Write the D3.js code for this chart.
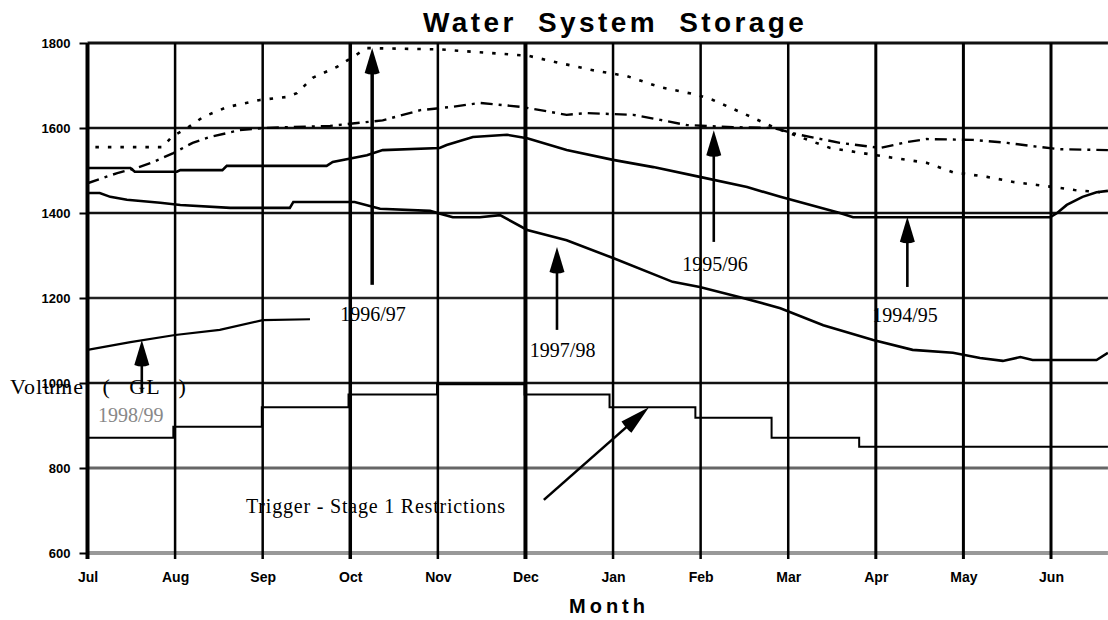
<!DOCTYPE html>
<html>
<head>
<meta charset="utf-8">
<script src="https://cdn.jsdelivr.net/npm/d3@7"></script>
<style>
  html, body { margin: 0; padding: 0; background: #fff; }
  svg { display: block; }
</style>
</head>
<body>
<svg id="chart" width="1108" height="620"></svg>
<script>
// ---------- DATA ----------
const months = ["Jul","Aug","Sep","Oct","Nov","Dec","Jan","Feb","Mar","Apr","May","Jun"];
const yTicks = [600, 800, 1000, 1200, 1400, 1600, 1800];

// [month position (0 = start of Jul), volume GL]
const storage1996_97 = [[0.09,1555],[0.86,1555],[0.96,1579],[1.14,1600],[1.32,1626],[1.59,1649],[1.97,1666],[2.28,1673],[2.39,1682],[2.57,1718],[2.85,1744],[3.19,1788],[4.02,1785],[5.03,1770],[5.39,1753],[5.77,1736],[6.16,1722],[6.54,1696],[6.96,1678],[7.14,1666],[7.60,1624],[7.83,1602],[8.13,1579],[8.48,1553],[9.00,1536],[9.58,1518],[9.88,1496],[10.27,1485],[10.57,1473],[10.84,1466],[11.10,1459],[11.27,1454],[11.56,1449]];
const storage1995_96 = [[0,1470],[0.34,1494],[0.56,1506],[0.75,1520],[0.98,1541],[1.20,1565],[1.40,1579],[1.74,1595],[2.01,1600],[2.77,1605],[3.37,1618],[3.80,1642],[4.17,1650],[4.48,1659],[4.94,1650],[5.17,1642],[5.47,1631],[5.70,1635],[6.23,1631],[6.54,1619],[6.84,1607],[7.37,1602],[7.83,1600],[8.13,1584],[8.59,1565],[9.05,1553],[9.36,1567],[9.58,1574],[10.11,1572],[10.50,1565],[10.76,1558],[11.10,1550],[11.65,1548]];
const storage1994_95 = [[0,1506],[0.49,1506],[0.54,1497],[1.02,1497],[1.06,1501],[1.54,1501],[1.59,1511],[2.73,1511],[2.80,1520],[3.19,1536],[3.37,1548],[4.02,1553],[4.10,1560],[4.40,1579],[4.79,1584],[5.02,1576],[5.47,1548],[6.00,1525],[6.46,1508],[6.99,1485],[7.53,1461],[7.91,1438],[8.59,1400],[8.74,1390],[10.99,1390],[11.07,1400],[11.18,1419],[11.36,1438],[11.52,1449],[11.65,1452]];
const storage1997_98 = [[0,1447],[0.14,1447],[0.26,1438],[0.45,1431],[0.83,1424],[1.06,1419],[1.63,1412],[2.31,1412],[2.35,1426],[3.05,1426],[3.34,1410],[3.91,1405],[4.17,1390],[4.48,1390],[4.71,1395],[5.02,1360],[5.47,1336],[6.00,1294],[6.68,1238],[6.99,1226],[7.45,1202],[7.91,1176],[8.40,1136],[8.97,1101],[9.42,1078],[9.88,1071],[10.19,1059],[10.45,1052],[10.65,1061],[10.79,1054],[11.52,1054],[11.65,1071]];
const storage1998_99 = [[0,1078],[0.49,1096],[1.00,1113],[1.51,1125],[2.00,1148],[2.54,1150]];
const triggerStage1 = [[0,871],[0.98,897],[1.99,943],[2.98,973],[3.99,997],[4.99,973],[5.96,943],[6.94,918],[7.81,871],[8.81,850],[11.65,850]];

// annotation arrows: [from month, from volume, to month, to volume]
const arrows = [
  [0.62, 979, 0.62, 1101],
  [3.25, 1231, 3.25, 1788],
  [5.36, 1125, 5.36, 1320],
  [7.15, 1332, 7.15, 1595],
  [9.36, 1226, 9.36, 1391],
  [5.21, 725, 6.41, 943]
];
// annotation labels: [text, month, volume, colour]
const labels = [
  ["1996/97", 2.885, 1146, "#000"],
  ["1997/98", 5.05, 1061, "#000"],
  ["1995/96", 6.79, 1264, "#000"],
  ["1994/95", 8.96, 1144, "#000"],
  ["1998/99", 0.12, 908, "#888"],
  ["Trigger - Stage 1 Restrictions", 1.81, 694, "#000"]
];

// ---------- CHART ----------
const svg = d3.select("#chart");
const x = d3.scaleLinear().domain([0, 11]).range([87.5, 1051]);
const y = d3.scaleLinear().domain([600, 1800]).range([553, 43]);
const xMax = 11.65;

// horizontal gridlines
const hStyle = {600:["#999",4],800:["#666",3],1000:["#111",2.5],1200:["#222",2.5],1400:["#111",2.5],1600:["#111",2.5],1800:["#111",3]};
svg.append("g").selectAll("line").data(yTicks).join("line")
  .attr("x1", x(0)).attr("x2", x(xMax))
  .attr("y1", d => y(d)).attr("y2", d => y(d))
  .attr("stroke", d => hStyle[d][0]).attr("stroke-width", d => hStyle[d][1]);

// vertical gridlines
const vWidth = [4,2.5,2.5,3.5,2.5,4,2.5,2.5,2.5,3,3,3];
svg.append("g").selectAll("line").data(months).join("line")
  .attr("x1", (d,i) => x(i)).attr("x2", (d,i) => x(i))
  .attr("y1", y(1800)).attr("y2", y(600) + 6)
  .attr("stroke", "#000").attr("stroke-width", (d,i) => vWidth[i]);

// y axis ticks and labels
const yAxis = d3.axisLeft(y).tickValues(yTicks).tickSize(8).tickPadding(4).tickFormat(d3.format("d"));
const ya = svg.append("g").attr("transform", `translate(${x(0)},0)`).call(yAxis);
ya.select(".domain").remove();
ya.selectAll(".tick line").attr("stroke", "#000").attr("stroke-width", 2);
ya.selectAll(".tick text").attr("font-family", "Liberation Sans, Arial, sans-serif")
  .attr("font-weight", "bold").attr("font-size", 13).attr("fill", "#000").attr("dy", "0.35em").attr("x", -17);

// x axis labels
const xAxis = d3.axisBottom(x).tickValues(d3.range(12)).tickSize(0).tickPadding(29).tickFormat(i => months[i]);
const xa = svg.append("g").attr("transform", `translate(0,${y(600)})`).call(xAxis);
xa.select(".domain").remove();
xa.selectAll(".tick text").attr("font-family", "Liberation Sans, Arial, sans-serif")
  .attr("font-weight", "bold").attr("font-size", 14).attr("fill", "#000").attr("dy", 0);

// series
const line = d3.line().x(d => x(d[0])).y(d => y(d[1]));
const stepLine = d3.line().x(d => x(d[0])).y(d => y(d[1])).curve(d3.curveStepAfter);

svg.append("path").datum(triggerStage1).attr("d", stepLine)
  .attr("fill", "none").attr("stroke", "#000").attr("stroke-width", 2);
svg.append("path").datum(storage1998_99).attr("d", line)
  .attr("fill", "none").attr("stroke", "#000").attr("stroke-width", 2.2);
svg.append("path").datum(storage1997_98).attr("d", line)
  .attr("fill", "none").attr("stroke", "#000").attr("stroke-width", 2.6);
svg.append("path").datum(storage1994_95).attr("d", line)
  .attr("fill", "none").attr("stroke", "#000").attr("stroke-width", 2.6);
svg.append("path").datum(storage1995_96).attr("d", line)
  .attr("fill", "none").attr("stroke", "#000").attr("stroke-width", 2.4)
  .attr("stroke-dasharray", "12,6,3,6");
svg.append("path").datum(storage1996_97).attr("d", line)
  .attr("fill", "none").attr("stroke", "#000").attr("stroke-width", 2.6)
  .attr("stroke-dasharray", "3.5,9");

// arrows
const ag = svg.append("g");
arrows.forEach((a, i) => {
  const x1 = x(a[0]), y1 = y(a[1]), x2 = x(a[2]), y2 = y(a[3]);
  const ang = Math.atan2(y2 - y1, x2 - x1);
  const len = i === 5 ? 30 : 25, hw = 7.5;
  const bx = x2 - len * Math.cos(ang), by = y2 - len * Math.sin(ang);
  const px = -Math.sin(ang) * hw, py = Math.cos(ang) * hw;
  ag.append("line").attr("x1", x1).attr("y1", y1).attr("x2", bx + (x2-bx)*0.3).attr("y2", by + (y2-by)*0.3)
    .attr("stroke", "#000").attr("stroke-width", i === 1 ? 3.5 : 2.6);
  ag.append("path")
    .attr("d", `M${x2},${y2}L${bx+px},${by+py}Q${bx},${by-3*Math.sin(ang)} ${bx-px},${by-py}Z`)
    .attr("fill", "#000");
});

// annotation labels
svg.append("g").selectAll("text").data(labels).join("text")
  .attr("x", d => x(d[1])).attr("y", d => y(d[2]))
  .attr("font-family", "Liberation Serif, Times New Roman, serif")
  .attr("font-size", 20).attr("fill", d => d[3])
  .attr("letter-spacing", d => d[0].length > 10 ? 0.8 : 0)
  .text(d => d[0]);

// axis titles
svg.append("text").attr("x", 10).attr("y", 394)
  .attr("font-family", "Liberation Serif, Times New Roman, serif")
  .attr("font-size", 22).attr("letter-spacing", 1).attr("word-spacing", 12)
  .text("Volume ( GL )");

svg.append("text").attr("x", 569).attr("y", 613)
  .attr("font-family", "Liberation Sans, Arial, sans-serif")
  .attr("font-weight", "bold").attr("font-size", 20).attr("letter-spacing", 4)
  .text("Month");

svg.append("text").attr("x", 423).attr("y", 32)
  .attr("font-family", "Liberation Sans, Arial, sans-serif")
  .attr("font-weight", "bold").attr("font-size", 28).attr("letter-spacing", 3.4).attr("word-spacing", 10)
  .text("Water System Storage");
</script>
</body>
</html>
